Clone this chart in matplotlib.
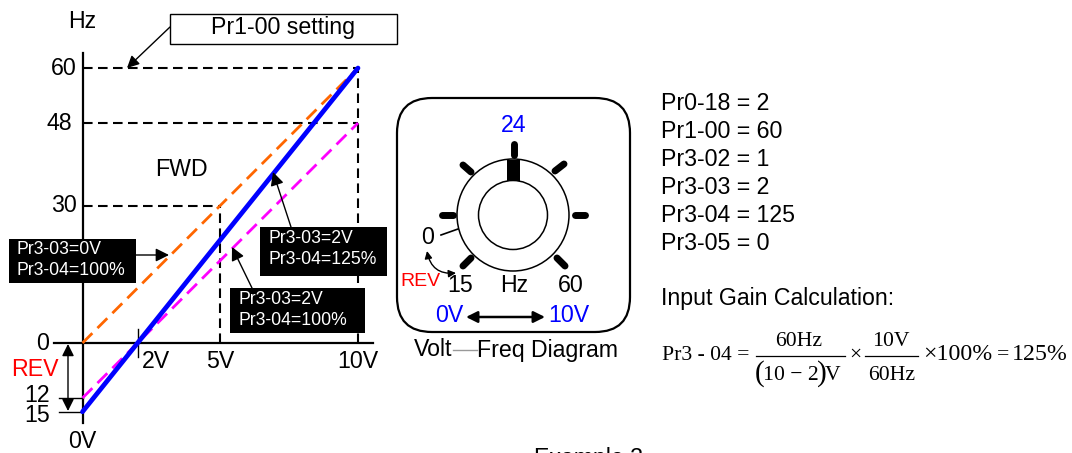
import matplotlib
matplotlib.use("Agg")
import matplotlib.pyplot as plt
from matplotlib.patches import FancyBboxPatch, Circle, Rectangle, FancyArrowPatch

plt.rcParams['font.family'] = ['Liberation Sans', 'DejaVu Sans']

# ---- data ----
volts_ends = [0, 10]
orange_hz = [0, 60]
blue_hz = [-15, 60]
magenta_hz = [-12, 48]
h_guides = [(60, 10), (48, 10), (30, 5)]
v_guides = [(5, 30), (10, 60)]
y_ticks = [60, 48, 30, 0]
y_tick_labels = ['60', '48', '30', '0']
x_tick_labels = [(2, '2V'), (5, '5V'), (10, '10V')]
params = ['Pr0-18 = 2', 'Pr1-00 = 60', 'Pr3-02 = 1', 'Pr3-03 = 2', 'Pr3-04 = 125', 'Pr3-05 = 0']

W, H = 1072, 453
X0, PXV = 82.5, 27.55
Y0, PXH = 343.0, 4.583

fig = plt.figure(figsize=(W / 100, H / 100), dpi=100)
ax = fig.add_axes([0, 0, 1, 1])
ax.set_xlim((0 - X0) / PXV, (W - X0) / PXV)
ax.set_ylim((Y0 - H) / PXH, Y0 / PXH)
ax.axis('off')
px = fig.add_axes([0, 0, 1, 1], facecolor='none')
px.set_xlim(0, W)
px.set_ylim(H, 0)
px.axis('off')

FS = 16.7
dash = (0, (4.6, 2.6))

# guides
for hz, v in h_guides:
    ax.plot([0, v], [hz, hz], color='black', lw=1.5, ls=dash, zorder=2)
for v, hz in v_guides:
    ax.plot([v, v], [0, hz], color='black', lw=1.5, ls=dash, zorder=2)

# axes lines
ax.plot([0, 0], [-17.5, 63.3], color='black', lw=1.6, zorder=3)
ax.plot([-1.05, 10.55], [0, 0], color='black', lw=1.6, zorder=3)
ax.plot([2, 2], [-3, 3], color='black', lw=1, zorder=3)
ax.plot([-0.85, 0], [-12, -12], color='black', lw=1, zorder=3)
ax.plot([-0.85, 0], [-15, -15], color='black', lw=1, zorder=3)

# series
ax.plot(volts_ends, orange_hz, color='#ff6600', lw=2, ls=(0, (5, 2.6)), zorder=4)
ax.plot(volts_ends, magenta_hz, color='#ff00ff', lw=2, ls=(0, (5, 2.6)), zorder=4)
ax.plot(volts_ends, blue_hz, color='#0000ff', lw=3.4, zorder=5, solid_capstyle='round')

# axis labels
tick_right = {60: 77, 48: 72, 30: 77, 0: 49}
for hz, lab in zip(y_ticks, y_tick_labels):
    px.text(tick_right[hz], Y0 - hz * PXH, lab, ha='right', va='center', fontsize=FS, zorder=6)
px.text(82, 21, 'Hz', ha='center', va='center', fontsize=FS)
px.text(50, 396, '12', ha='right', va='center', fontsize=FS)
px.text(50, 416, '15', ha='right', va='center', fontsize=FS)
px.text(82, 441, '0V', ha='center', va='center', fontsize=FS)
for v, lab in x_tick_labels:
    px.text({2: 156, 5: 220, 10: 358}[v], 362, lab, ha='center', va='center', fontsize=FS)
px.text(35, 370, 'REV', ha='center', va='center', fontsize=FS, color='red')
px.text(181, 170, 'FWD', ha='center', va='center', fontsize=FS)


def arrow(p, q, style='-|>', lw=1.0, ms=20, **kw):
    px.add_patch(FancyArrowPatch(p, q, arrowstyle=style, mutation_scale=ms, lw=lw,
                                 color='black', shrinkA=0, shrinkB=0, zorder=8, **kw))


arrow((68, 344), (68, 411), '<|-|>', ms=18)

# Pr1-00 box
px.add_patch(Rectangle((170, 13.5), 226.5, 30, fc='white', ec='black', lw=1, zorder=7))
px.text(283, 27.5, 'Pr1-00 setting', ha='center', va='center', fontsize=FS, zorder=8)
arrow((170, 27), (127, 68), ms=18)

# black labels
boxes = [((9, 239), 127, 44, 'Pr3-03=0V\nPr3-04=100%', (17, 260)),
         ((260, 227), 127, 49, 'Pr3-03=2V\nPr3-04=125%', (268, 249)),
         ((230, 288), 135, 45, 'Pr3-03=2V\nPr3-04=100%', (239, 310))]
for (x, y), w, h, txt, (tx, ty) in boxes:
    px.add_patch(Rectangle((x, y), w, h, fc='black', ec='none', zorder=9))
    px.text(tx, ty, txt, color='white', ha='left', va='center', fontsize=12.7,
            linespacing=1.33, zorder=10)
arrow((136, 255), (169, 255))
arrow((291, 227), (273, 172))
arrow((252, 288), (232, 247))

# dial panel
px.add_patch(FancyBboxPatch((397 + 35, 98 + 35), 233 - 70, 234 - 70,
                            boxstyle='round,pad=35,rounding_size=35',
                            fc='white', ec='black', lw=1.6, zorder=2))
cx, cy = 513, 215
px.add_patch(Circle((cx, cy), 56, fc='white', ec='black', lw=1.1, zorder=3))
px.add_patch(Rectangle((507, 160), 13, 21, fc='black', ec='none', zorder=4))
px.add_patch(Circle((cx, cy), 34.5, fc='white', ec='black', lw=1.1, zorder=5))
for p, q in [((513.5, 144), (513.5, 155)), ((575, 215), (585, 215)), ((442, 215), (453, 215)),
             ((463, 165), (471, 172)), ((555, 171), (564, 164)),
             ((463, 266), (471, 258)), ((557, 258), (565, 266))]:
    px.plot([p[0], q[0]], [p[1], q[1]], color='black', lw=5, solid_capstyle='round', zorder=4)
px.plot([441, 458], [235, 229], color='black', lw=1.2, zorder=4)
px.text(513.5, 125, '24', color='#0000ff', ha='center', va='center', fontsize=FS, zorder=6)
px.text(428, 238, '0', ha='center', va='center', fontsize=FS, zorder=6)
px.text(460, 286, '15', ha='center', va='center', fontsize=FS, zorder=6)
px.text(514, 286, 'Hz', ha='center', va='center', fontsize=FS, zorder=6)
px.text(571, 286, '60', ha='center', va='center', fontsize=FS, zorder=6)
px.text(420, 281, 'REV', color='red', ha='center', va='center', fontsize=14, zorder=7)
px.text(449, 315, '0V', color='#0000ff', ha='center', va='center', fontsize=FS, zorder=6)
px.text(569, 315, '10V', color='#0000ff', ha='center', va='center', fontsize=FS, zorder=6)
arrow((466, 317), (545, 317), '<|-|>', lw=1.8, ms=17)
arrow((427, 251), (456, 273), '<|-|>', lw=1, ms=11, connectionstyle='arc3,rad=0.45')
px.text(414, 350, 'Volt', ha='left', va='center', fontsize=FS)
px.plot([453, 477], [350, 350], color='#999999', lw=1)
px.text(477, 350, 'Freq Diagram', ha='left', va='center', fontsize=FS)

# parameters
for i, s in enumerate(params):
    px.text(661, 104 + i * 27.9, s, ha='left', va='center', fontsize=FS)
px.text(661, 299, 'Input Gain Calculation:', ha='left', va='center', fontsize=FS)

# formula
serif = dict(family='Liberation Serif', fontsize=15.6, va='center', zorder=6)
big = dict(serif, fontsize=17.2)
paren = dict(family='Liberation Serif', fontsize=21, va='center', zorder=6)
px.text(662, 355, 'Pr3 - 04 =', ha='left', **serif)
px.text(799, 342, '60Hz', ha='center', **serif)
px.text(755, 374, '(', ha='left', **paren)
px.text(790.5, 375, '10 − 2', ha='center', **serif)
px.text(817, 374, ')', ha='left', **paren)
px.text(825, 375, 'V', ha='left', **serif)
px.plot([756, 845], [356, 356], color='black', lw=0.9)
px.text(855, 355, '×', ha='center', **serif)
px.text(891, 342, '10V', ha='center', **serif)
px.text(892, 375, '60Hz', ha='center', **serif)
px.plot([865, 918], [356, 356], color='black', lw=0.9)
px.text(923, 355, '×100%', ha='left', **big)
px.text(1003, 355, '=', ha='center', **serif)
px.text(1068, 355, '125%', ha='right', **big)

# caption (cut off by the lower picture edge, as in the reference)
px.text(589, 458, 'Example 3', ha='center', va='center', fontsize=FS, clip_on=False)

fig.savefig('out.png', dpi=100)
